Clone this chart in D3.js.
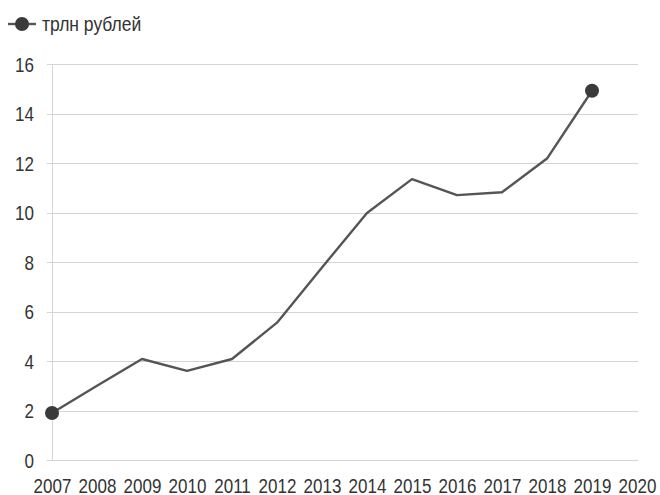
<!DOCTYPE html>
<html>
<head>
<meta charset="utf-8">
<script src="https://cdn.jsdelivr.net/npm/d3@7/dist/d3.min.js"></script>
<style>
  html, body { margin: 0; padding: 0; background: #fff; }
  svg { display: block; font-family: "Liberation Sans", Arial, sans-serif; }
</style>
</head>
<body>
<svg id="chart" width="660" height="495"></svg>
<script>
// Years on the x axis (2020 is shown as an empty slot)
const years = [2007, 2008, 2009, 2010, 2011, 2012, 2013, 2014, 2015, 2016, 2017, 2018, 2019, 2020];
// Value series, trillion rubles
const seriesYears = [2007, 2008, 2009, 2010, 2011, 2012, 2013, 2014, 2015, 2016, 2017, 2018, 2019];
const values = [1.9, 3.0, 4.08, 3.6, 4.08, 5.55, 7.78, 9.98, 11.35, 10.7, 10.82, 12.18, 14.92];
const yTicks = [0, 2, 4, 6, 8, 10, 12, 14, 16];
const seriesName = "трлн рублей";

const svg = d3.select("#chart");
const plotLeft = 52, plotRight = 637, plotTop = 64, plotBottom = 460;
const textStretch = 1.17; // labels are drawn slightly tall

const x = d3.scaleLinear().domain([2007, 2020]).range([plotLeft, plotRight]);
const y = d3.scaleLinear().domain([0, 16]).range([plotBottom, plotTop]);

// Y axis labels
const yAxis = d3.axisLeft(y).tickValues(yTicks).tickSize(0);
const gy = svg.append("g").attr("transform", `translate(${plotLeft},0)`).call(yAxis);
gy.select(".domain").remove();
gy.selectAll("text")
  .attr("fill", "#333").style("font-size", "17px")
  .attr("x", null).attr("y", null).attr("dy", null)
  .attr("text-anchor", "end")
  .attr("transform", `translate(-18,7) scale(1,${textStretch})`);

// Horizontal grid lines
svg.append("g").selectAll("line").data(yTicks).join("line")
  .attr("x1", plotLeft - 5).attr("x2", plotRight + 1)
  .attr("y1", d => Math.round(y(d)) + 0.5).attr("y2", d => Math.round(y(d)) + 0.5)
  .attr("stroke", "#d4d4d4").attr("stroke-width", 1);

// Vertical axis line
svg.append("line")
  .attr("x1", plotLeft + 0.5).attr("x2", plotLeft + 0.5)
  .attr("y1", y(16)).attr("y2", y(0))
  .attr("stroke", "#d4d4d4");

// X axis labels
const xAxis = d3.axisBottom(x).tickValues(years).tickFormat(d3.format("d")).tickSize(0);
const gx = svg.append("g").attr("transform", `translate(0,${plotBottom})`).call(xAxis);
gx.select(".domain").remove();
gx.selectAll("text")
  .attr("fill", "#333").style("font-size", "17px")
  .attr("y", null).attr("dy", null)
  .attr("transform", `translate(0,33) scale(1,${textStretch})`);

// Data line
const data = seriesYears.map((yr, i) => ({ yr, v: values[i] }));
svg.append("path").datum(data)
  .attr("fill", "none").attr("stroke", "#555").attr("stroke-width", 2.4)
  .attr("stroke-linejoin", "round")
  .attr("d", d3.line().x(d => x(d.yr)).y(d => y(d.v)));

// End-point markers
svg.append("g").selectAll("circle").data([data[0], data[data.length - 1]]).join("circle")
  .attr("cx", d => x(d.yr)).attr("cy", d => y(d.v)).attr("r", 7)
  .attr("fill", "#3a3a3a");

// Legend
const lg = svg.append("g").attr("transform", "translate(8,24)");
lg.append("line").attr("x1", 0).attr("x2", 28).attr("y1", 0).attr("y2", 0)
  .attr("stroke", "#555").attr("stroke-width", 2.4);
lg.append("circle").attr("cx", 14).attr("cy", 0).attr("r", 7).attr("fill", "#3a3a3a");
lg.append("text").text(seriesName)
  .attr("transform", `translate(34,7) scale(1,${textStretch})`)
  .attr("fill", "#333").style("font-size", "17.5px");
</script>
</body>
</html>
